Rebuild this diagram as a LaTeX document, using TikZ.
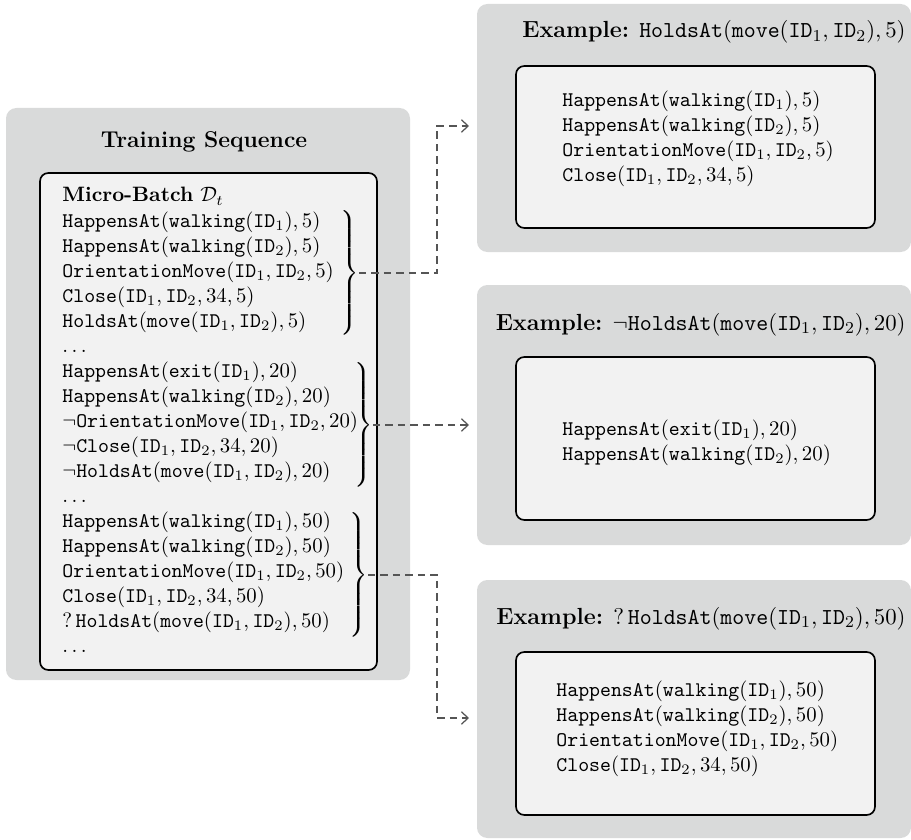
\documentclass[tikz,border=0pt]{standalone}
\usetikzlibrary{fit,arrows.meta}
\definecolor{outergray}{RGB}{217,218,218}
\definecolor{innergray}{RGB}{242,242,242}
\definecolor{connline}{RGB}{85,85,85}
\newcommand{\tn}[1]{\mathtt{#1}}
\newcommand{\Ia}{\mathtt{ID}_1}
\newcommand{\Ib}{\mathtt{ID}_2}
\newcommand{\bigbrace}[1]{$\delimiterfactor=1000 \delimitershortfall=0pt \left.\vcenter{\hbox{\vrule height #1 width 0pt}}\right\}$}
\tikzset{
  outerbox/.style={fill=outergray, rounded corners=5pt, inner sep=0pt},
  innerbox/.style={draw=black, line width=0.8pt, fill=innergray, rounded corners=4pt, inner sep=0pt},
  lstline/.style={anchor=base west, inner sep=0pt, font=\fontsize{10}{12}\selectfont},
  boxtitle/.style={inner sep=0pt, anchor=base east, font=\fontsize{11.2}{13}\selectfont},
  boxtext/.style={align=left, anchor=west, inner sep=0pt, font=\fontsize{10}{12}\selectfont},
  bracenode/.style={anchor=east, inner sep=0pt, font=\fontsize{10}{12}\selectfont},
  conn/.style={draw=connline, dash pattern=on 3.5pt off 2.5pt, line width=0.55pt,
    -{Straight Barb[length=3.2pt, width=6pt, line width=0.6pt]}},
}
\begin{document}
\begin{tikzpicture}[x=0.4805pt, y=-0.4805pt]
\useasboundingbox (0,0) rectangle (911,840);

% left: training sequence
\node[outerbox, fit={(6,108) (410,680)}] (ts) {};
\node[innerbox, fit={(40,173) (377,670)}] (mb) {};
\node[anchor=base, inner sep=0pt, font=\fontsize{11}{13}\selectfont\bfseries] (tst) at (204,148) {Training Sequence};

\foreach \t [count=\i] in {
  {\textbf{Micro-Batch} $\mathcal{D}_t$},
  {$\tn{HappensAt}(\tn{walking}(\Ia),5)$},
  {$\tn{HappensAt}(\tn{walking}(\Ib),5)$},
  {$\tn{OrientationMove}(\Ia,\Ib,5)$},
  {$\tn{Close}(\Ia,\Ib,34,5)$},
  {$\tn{HoldsAt}(\tn{move}(\Ia,\Ib),5)$},
  {$\dots$},
  {$\tn{HappensAt}(\tn{exit}(\Ia),20)$},
  {$\tn{HappensAt}(\tn{walking}(\Ib),20)$},
  {$\neg\tn{OrientationMove}(\Ia,\Ib,20)$},
  {$\neg\tn{Close}(\Ia,\Ib,34,20)$},
  {$\neg\tn{HoldsAt}(\tn{move}(\Ia,\Ib),20)$},
  {$\dots$},
  {$\tn{HappensAt}(\tn{walking}(\Ia),50)$},
  {$\tn{HappensAt}(\tn{walking}(\Ib),50)$},
  {$\tn{OrientationMove}(\Ia,\Ib,50)$},
  {$\tn{Close}(\Ia,\Ib,34,50)$},
  {$?\,\tn{HoldsAt}(\tn{move}(\Ia,\Ib),50)$},
  {$\dots$}}
  \node[lstline] (l\i) at (62,{177+25*\i}) {\t};

\node[bracenode] (b1) at (359,273) {\bigbrace{56pt}};
\node[bracenode] (b2) at (373,425) {\bigbrace{58pt}};
\node[bracenode] (b3) at (368,575) {\bigbrace{59pt}};

% right: examples
\node[outerbox, fit={(477,4) (911,252)}] (ex1) {};
\node[innerbox, fit={(516,66) (875,228)}] (in1) {};
\node[boxtitle] (t1) at (906,38) {\textbf{Example:} $\tn{HoldsAt}(\tn{move}(\Ia,\Ib),5)$};
\node[boxtext] (c1) at (562,139) {$\tn{HappensAt}(\tn{walking}(\Ia),5)$\\
  $\tn{HappensAt}(\tn{walking}(\Ib),5)$\\
  $\tn{OrientationMove}(\Ia,\Ib,5)$\\
  $\tn{Close}(\Ia,\Ib,34,5)$};

\node[outerbox, fit={(477,285) (911,545)}] (ex2) {};
\node[innerbox, fit={(516,357) (875,520)}] (in2) {};
\node[boxtitle] (t2) at (906,330) {\textbf{Example:} $\neg\tn{HoldsAt}(\tn{move}(\Ia,\Ib),20)$};
\node[boxtext] (c2) at (562,443) {$\tn{HappensAt}(\tn{exit}(\Ia),20)$\\
  $\tn{HappensAt}(\tn{walking}(\Ib),20)$};

\node[outerbox, fit={(477,580) (911,838)}] (ex3) {};
\node[innerbox, fit={(516,652) (875,815)}] (in3) {};
\node[boxtitle] (t3) at (906,624) {\textbf{Example:} $?\,\tn{HoldsAt}(\tn{move}(\Ia,\Ib),50)$};
\node[boxtext] (c3) at (556,729) {$\tn{HappensAt}(\tn{walking}(\Ia),50)$\\
  $\tn{HappensAt}(\tn{walking}(\Ib),50)$\\
  $\tn{OrientationMove}(\Ia,\Ib,50)$\\
  $\tn{Close}(\Ia,\Ib,34,50)$};

% connectors
\coordinate (j1) at (437,126);
\coordinate (a1) at (469,126);
\coordinate (a2) at (469,425);
\coordinate (j3) at (437,718);
\coordinate (a3) at (469,718);
\draw[conn] (b1.east) -| (j1) -- (a1);
\draw[conn] (b2.east) -- (a2);
\draw[conn] (b3.east) -| (j3) -- (a3);
\end{tikzpicture}
\end{document}
